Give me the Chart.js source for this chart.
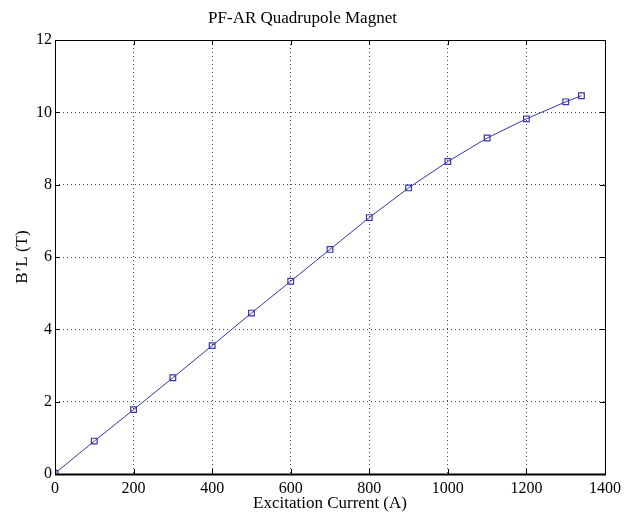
<!DOCTYPE html>
<html>
<head>
<meta charset="utf-8">
<script src="https://cdn.jsdelivr.net/npm/chart.js@4/dist/chart.umd.min.js"></script>
<style>
  html, body { margin: 0; padding: 0; background: #fff; }
  #wrap { width: 632px; height: 512px; }
</style>
</head>
<body>
<div id="wrap"><canvas id="myChart" width="632" height="512"></canvas></div>
<script>
'use strict';

// DATA
// ====
var current = [0, 100, 200, 300, 400, 500, 600, 700, 800, 900, 1000, 1100, 1200, 1300, 1340];
var bl = [0.02, 0.91, 1.78, 2.66, 3.55, 4.45, 5.33, 6.21, 7.09, 7.91, 8.64, 9.29, 9.82, 10.29, 10.46];
var xTicks = [0, 200, 400, 600, 800, 1000, 1200, 1400];
var yTicks = [0, 2, 4, 6, 8, 10, 12];

var serif = "'Liberation Serif', 'DejaVu Serif', serif";
var lineColor = '#3535b0';

// draws the box and inward tick marks (matlab style)
var frame = {
    id: 'frame',
    afterDraw: function (chart) {
        var ctx = chart.ctx;
        var a = chart.chartArea;
        var xs = chart.scales.x, ys = chart.scales.y;
        ctx.save();
        ctx.strokeStyle = '#000';
        ctx.lineWidth = 1;
        xTicks.forEach(function (v) {
            var px = Math.round(xs.getPixelForValue(v)) + 0.5;
            ctx.beginPath();
            ctx.moveTo(px, a.bottom); ctx.lineTo(px, a.bottom - 5);
            ctx.moveTo(px, a.top); ctx.lineTo(px, a.top + 5);
            ctx.stroke();
        });
        yTicks.forEach(function (v) {
            var py = Math.round(ys.getPixelForValue(v)) + 0.5;
            ctx.beginPath();
            ctx.moveTo(a.left, py); ctx.lineTo(a.left + 5, py);
            ctx.moveTo(a.right, py); ctx.lineTo(a.right - 5, py);
            ctx.stroke();
        });
        ctx.strokeRect(a.left + 0.5, a.top + 0.5, a.right - a.left, a.bottom - a.top);
        ctx.lineWidth = 2;
        ctx.beginPath();
        ctx.moveTo(a.left, a.bottom + 0.5); ctx.lineTo(a.right + 1, a.bottom + 0.5);
        ctx.stroke();
        ctx.restore();
    }
};

var points = current.map(function (c, i) { return { x: c, y: bl[i] }; });

var ctx = document.getElementById('myChart');
var myChart = new Chart(ctx, {
    type: 'line',
    data: {
        datasets: [{
            data: points,
            borderColor: lineColor,
            borderWidth: 1,
            pointStyle: 'rect',
            pointRadius: 4,
            pointBorderWidth: 1.2,
            pointBackgroundColor: 'rgba(0,0,0,0)',
            pointBorderColor: lineColor,
            fill: false,
            tension: 0
        }]
    },
    plugins: [frame],
    options: {
        responsive: false,
        animation: false,
        layout: { padding: { left: 0, right: 27, top: 0, bottom: 0 } },
        plugins: {
            legend: { display: false },
            tooltip: { enabled: false },
            title: {
                display: true,
                text: 'PF-AR Quadrupole Magnet',
                color: '#000',
                font: { family: serif, size: 17, weight: 'normal' },
                padding: { top: 8, bottom: 11.6 }
            }
        },
        scales: {
            x: {
                type: 'linear',
                min: 0,
                max: 1400,
                afterBuildTicks: function (s) { s.ticks = xTicks.map(function (v) { return { value: v }; }); },
                afterFit: function (s) { s.height = 38; },
                border: { display: false, dash: [1, 3] },
                grid: { color: '#444', drawTicks: false },
                ticks: {
                    color: '#000', padding: 5, maxRotation: 0,
                    font: { family: serif, size: 16 },
                    callback: function (v) { return String(v); }
                },
                title: {
                    display: true,
                    text: 'Excitation Current (A)',
                    color: '#000',
                    padding: 0,
                    font: { family: serif, size: 17, lineHeight: 1 }
                }
            },
            y: {
                min: 0,
                max: 12,
                afterBuildTicks: function (s) { s.ticks = yTicks.map(function (v) { return { value: v }; }); },
                afterFit: function (s) { s.width = 55; },
                border: { display: false, dash: [1, 3] },
                grid: { color: '#444', drawTicks: false },
                ticks: {
                    color: '#000', padding: 3,
                    font: { family: serif, size: 16 },
                    callback: function (v) { return String(v); }
                },
                title: {
                    display: true,
                    text: 'B\u2019L (T)',
                    color: '#000',
                    padding: { top: 12, bottom: 0 },
                    font: { family: serif, size: 17 }
                }
            }
        }
    }
});
</script>
</body>
</html>
